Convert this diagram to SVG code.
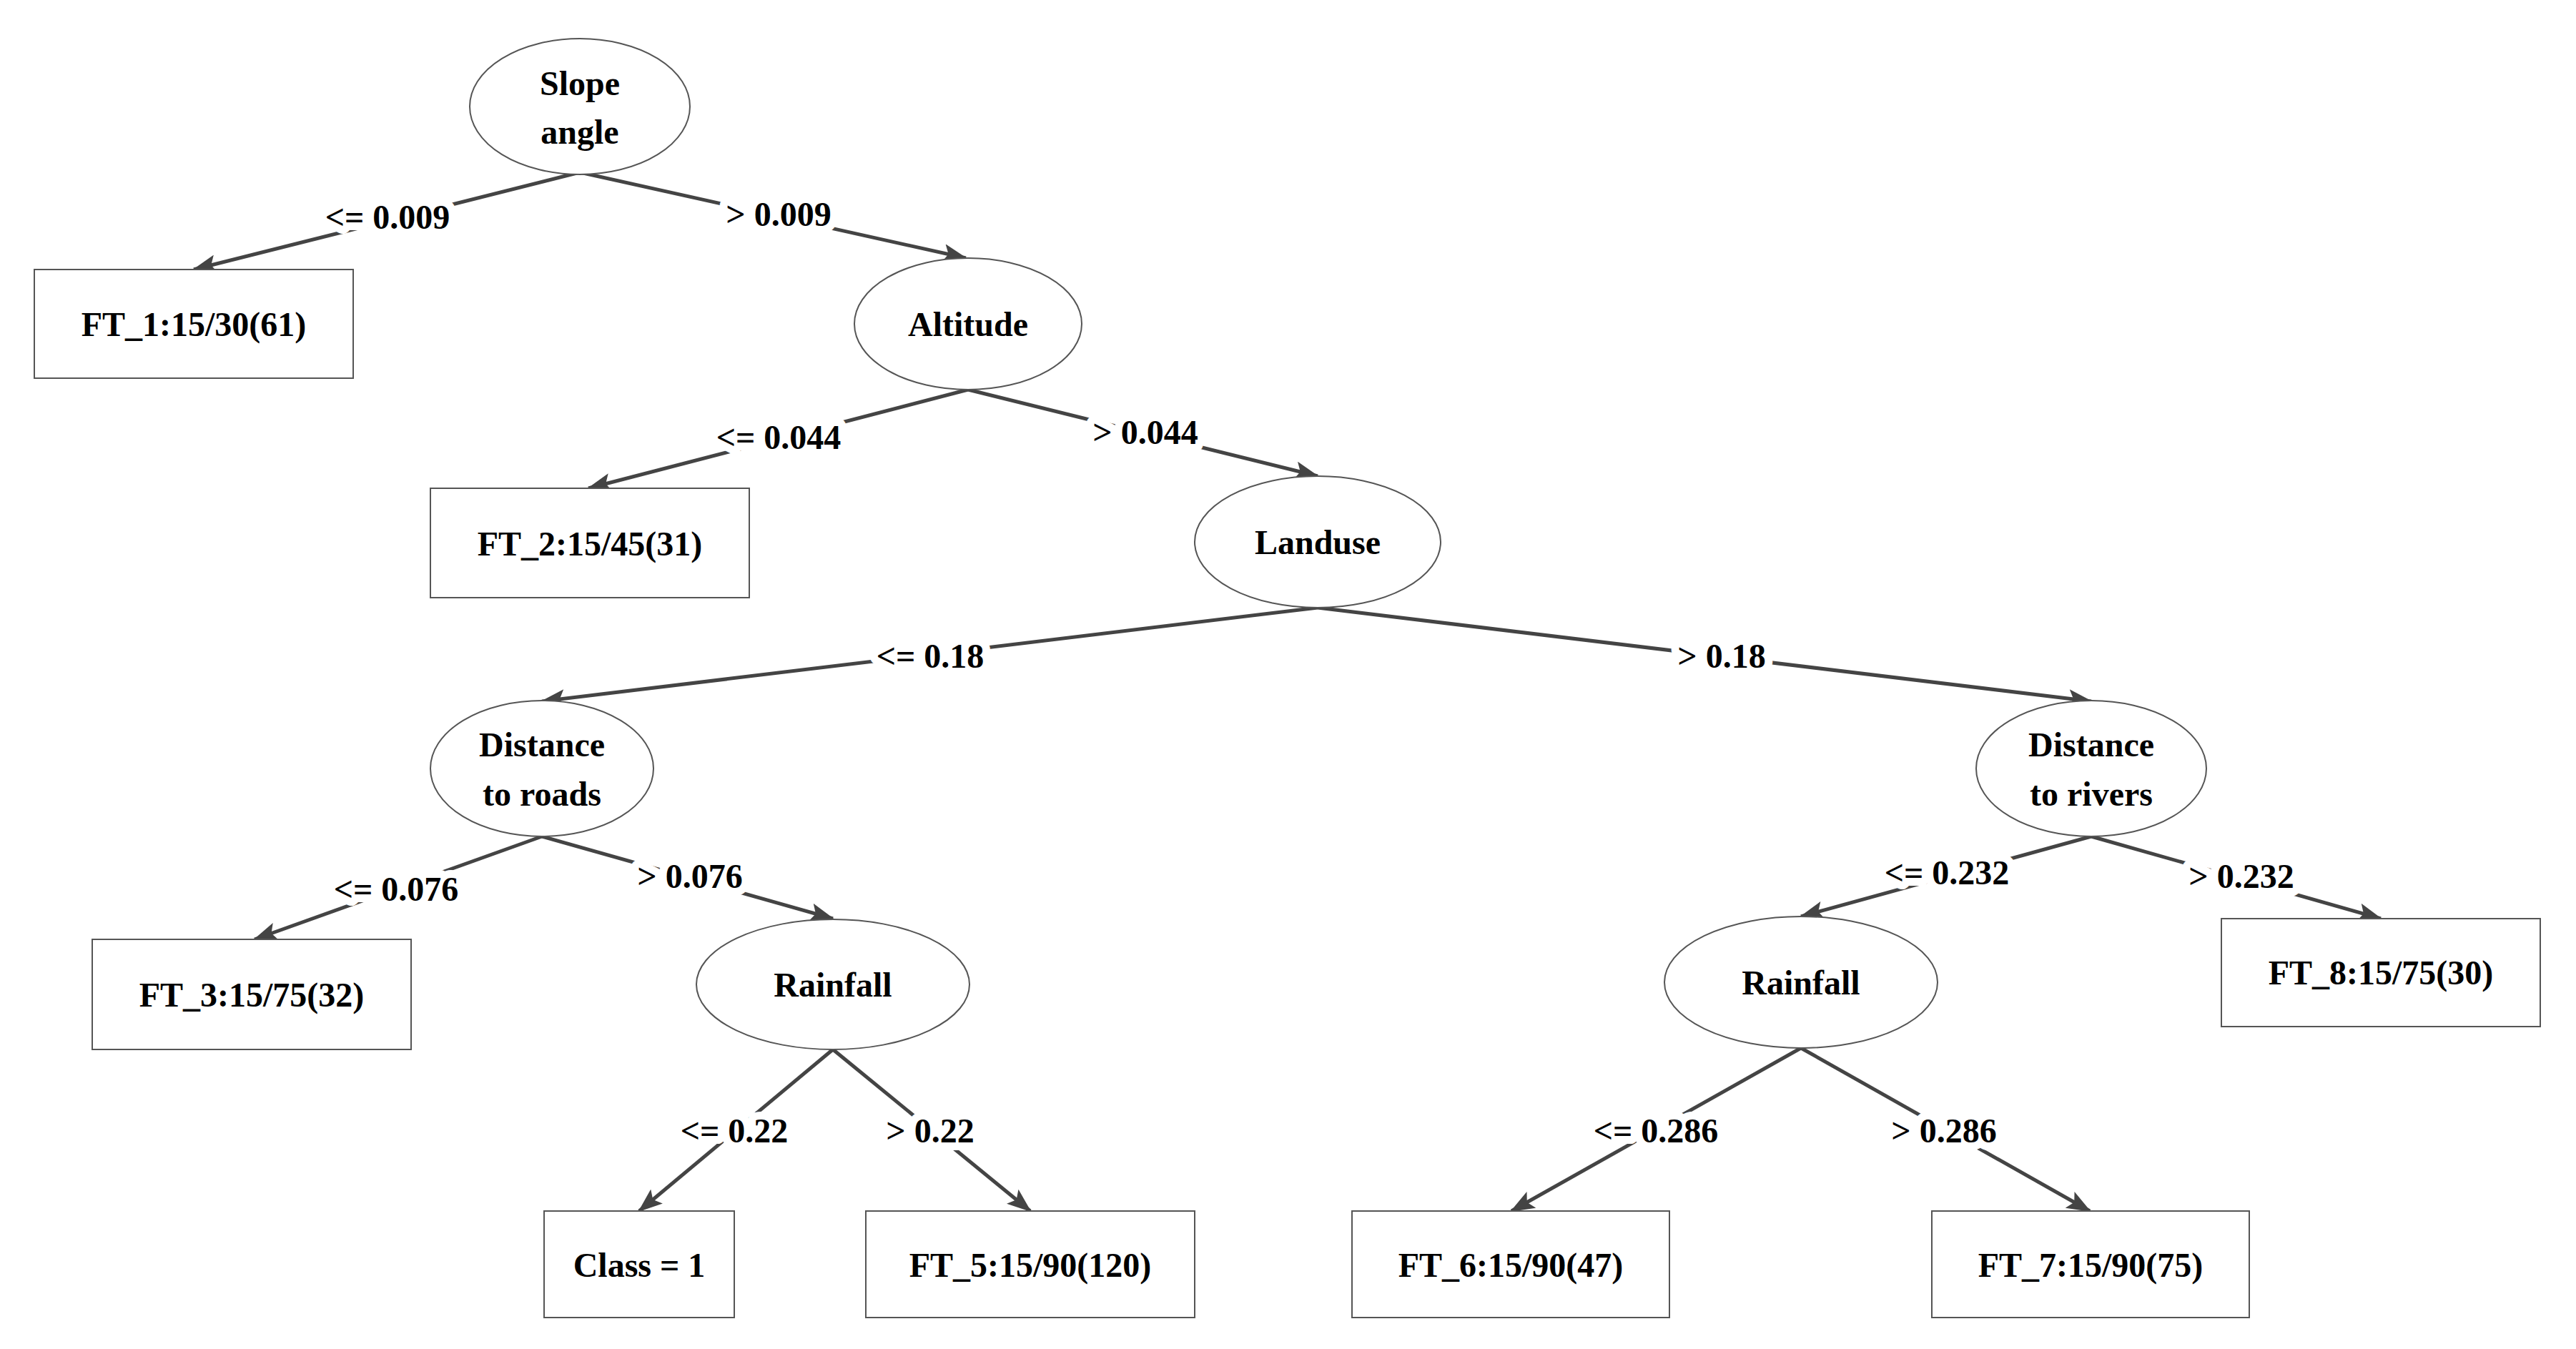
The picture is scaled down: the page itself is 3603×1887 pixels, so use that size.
<svg xmlns="http://www.w3.org/2000/svg" width="3603" height="1887" viewBox="0 0 3603 1887">
<style>
.n{fill:#fff;stroke:#555;stroke-width:2}
.t{font-family:"Liberation Serif",serif;font-weight:bold;font-size:48px;fill:#000;text-anchor:middle;dominant-baseline:central}
.e{stroke:#444;stroke-width:5;fill:none;marker-end:url(#a)}
.l{font-family:"Liberation Serif",serif;font-weight:bold;font-size:48px;fill:#000;text-anchor:middle;dominant-baseline:central;stroke:#fff;stroke-width:22px;paint-order:stroke;stroke-linejoin:round}
</style>
<defs><marker id="a" markerUnits="userSpaceOnUse" markerWidth="34" markerHeight="26" refX="32" refY="13" orient="auto"><path d="M0,0 L34,13 L0,26 L7,13 Z" fill="#444"/></marker></defs>
<rect width="3603" height="1887" fill="#fff"/>
<g id="connectors">
<line class="e" x1="811" y1="241" x2="271" y2="377"/>
<line class="e" x1="811" y1="241" x2="1351" y2="361"/>
<line class="e" x1="1354" y1="545" x2="823" y2="683"/>
<line class="e" x1="1354" y1="545" x2="1843" y2="666"/>
<line class="e" x1="1843" y1="850" x2="758" y2="981"/>
<line class="e" x1="1843" y1="850" x2="2925" y2="981"/>
<line class="e" x1="758" y1="1170" x2="356" y2="1314"/>
<line class="e" x1="758" y1="1170" x2="1165" y2="1285"/>
<line class="e" x1="1165" y1="1468" x2="894" y2="1694"/>
<line class="e" x1="1165" y1="1468" x2="1441" y2="1694"/>
<line class="e" x1="2925" y1="1170" x2="2519" y2="1282"/>
<line class="e" x1="2925" y1="1170" x2="3330" y2="1285"/>
<line class="e" x1="2519" y1="1466" x2="2114" y2="1694"/>
<line class="e" x1="2519" y1="1466" x2="2923" y2="1694"/>
<text class="l" x="542" y="303">&lt;= 0.009</text>
<text class="l" x="1089" y="299">&gt; 0.009</text>
<text class="l" x="1089" y="611">&lt;= 0.044</text>
<text class="l" x="1602" y="604">&gt; 0.044</text>
<text class="l" x="1301" y="917">&lt;= 0.18</text>
<text class="l" x="2408" y="917">&gt; 0.18</text>
<text class="l" x="554" y="1243">&lt;= 0.076</text>
<text class="l" x="965" y="1225">&gt; 0.076</text>
<text class="l" x="1027" y="1581">&lt;= 0.22</text>
<text class="l" x="1301" y="1581">&gt; 0.22</text>
<text class="l" x="2723" y="1220">&lt;= 0.232</text>
<text class="l" x="3135" y="1225">&gt; 0.232</text>
<text class="l" x="2316" y="1581">&lt;= 0.286</text>
<text class="l" x="2719" y="1581">&gt; 0.286</text>
</g>
<g id="slope"><ellipse class="n" cx="811" cy="149" rx="154" ry="95"/><text class="t" x="811" y="116">Slope</text><text class="t" x="811" y="184">angle</text></g>
<g id="ft1"><rect class="n" x="48" y="377" width="446" height="152"/><text class="t" x="271" y="453">FT_1:15/30(61)</text></g>
<g id="altitude"><ellipse class="n" cx="1354" cy="453" rx="159" ry="92"/><text class="t" x="1354" y="453">Altitude</text></g>
<g id="ft2"><rect class="n" x="602" y="683" width="446" height="153"/><text class="t" x="825" y="760">FT_2:15/45(31)</text></g>
<g id="landuse"><ellipse class="n" cx="1843" cy="758" rx="172" ry="92"/><text class="t" x="1843" y="758">Landuse</text></g>
<g id="droads"><ellipse class="n" cx="758" cy="1075" rx="156" ry="95"/><text class="t" x="758" y="1041">Distance</text><text class="t" x="758" y="1110">to roads</text></g>
<g id="drivers"><ellipse class="n" cx="2925" cy="1075" rx="161" ry="95"/><text class="t" x="2925" y="1041">Distance</text><text class="t" x="2925" y="1110">to rivers</text></g>
<g id="ft3"><rect class="n" x="129" y="1314" width="446" height="154"/><text class="t" x="352" y="1391">FT_3:15/75(32)</text></g>
<g id="rainL"><ellipse class="n" cx="1165" cy="1377" rx="191" ry="91"/><text class="t" x="1165" y="1377">Rainfall</text></g>
<g id="rainR"><ellipse class="n" cx="2519" cy="1374" rx="191" ry="92"/><text class="t" x="2519" y="1374">Rainfall</text></g>
<g id="ft8"><rect class="n" x="3107" y="1285" width="446" height="151"/><text class="t" x="3330" y="1360">FT_8:15/75(30)</text></g>
<g id="class1"><rect class="n" x="761" y="1694" width="266" height="149"/><text class="t" x="894" y="1769">Class = 1</text></g>
<g id="ft5"><rect class="n" x="1211" y="1694" width="460" height="149"/><text class="t" x="1441" y="1769">FT_5:15/90(120)</text></g>
<g id="ft6"><rect class="n" x="1891" y="1694" width="444" height="149"/><text class="t" x="2113" y="1769">FT_6:15/90(47)</text></g>
<g id="ft7"><rect class="n" x="2702" y="1694" width="444" height="149"/><text class="t" x="2924" y="1769">FT_7:15/90(75)</text></g>
</svg>
